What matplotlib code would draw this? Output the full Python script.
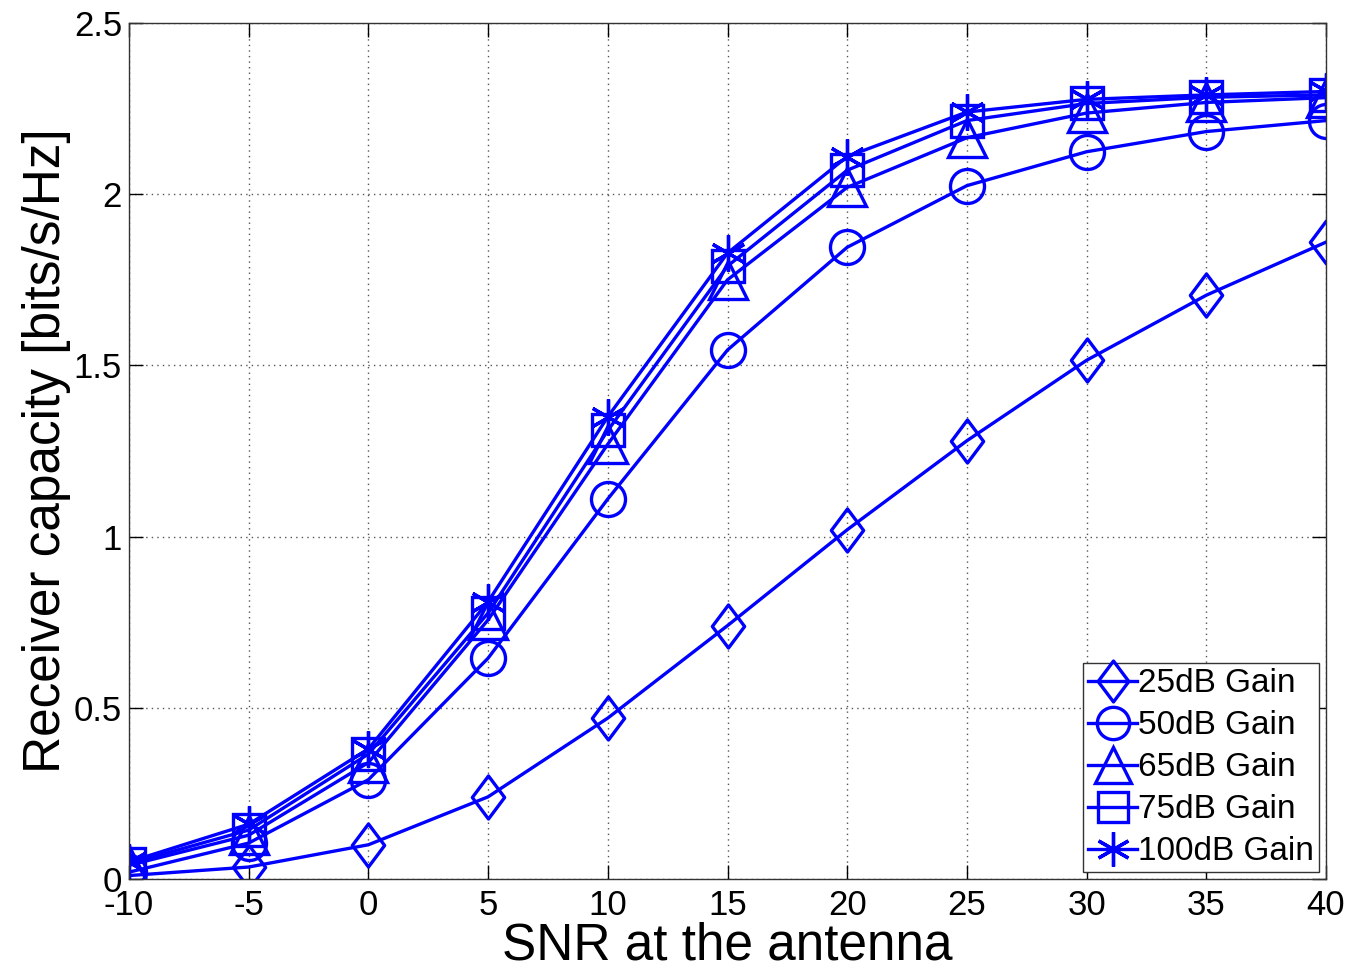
import matplotlib
matplotlib.use("Agg")
import matplotlib.pyplot as plt
from matplotlib.path import Path

snr = [-10, -5, 0, 5, 10, 15, 20, 25, 30, 35, 40]
gain_25 = [0.01, 0.035, 0.10, 0.24, 0.47, 0.74, 1.02, 1.28, 1.515, 1.705, 1.86]
gain_50 = [0.02, 0.105, 0.29, 0.645, 1.11, 1.545, 1.845, 2.025, 2.124, 2.183, 2.215]
gain_65 = [0.04, 0.128, 0.34, 0.757, 1.27, 1.75, 2.02, 2.165, 2.237, 2.268, 2.282]
gain_75 = [0.045, 0.143, 0.365, 0.777, 1.31, 1.79, 2.07, 2.215, 2.265, 2.283, 2.29]
gain_100 = [0.05, 0.16, 0.38, 0.81, 1.35, 1.828, 2.11, 2.24, 2.277, 2.29, 2.30]
labels = ["25dB Gain", "50dB Gain", "65dB Gain", "75dB Gain", "100dB Gain"]
series = [gain_25, gain_50, gain_65, gain_75, gain_100]

diamond = Path([(0, 1), (0.75, 0), (0, -1), (-0.75, 0), (0, 1)],
               [Path.MOVETO, Path.LINETO, Path.LINETO, Path.LINETO, Path.CLOSEPOLY])
markers = [diamond, "o", "^", "s", (6, 2, 0)]
msizes = [31, 24.5, 28, 23, 26]

plt.rcParams['font.family'] = ['Liberation Sans', 'DejaVu Sans']
fig = plt.figure(figsize=(13.5, 9.68), dpi=100)
ax = fig.add_axes([129/1350, 1 - 879/968, (1326-129)/1350, (879-23)/968])

blue = (0, 0, 1)
for y, lab, m, ms in zip(series, labels, markers, msizes):
    ax.plot(snr, y, color=blue, lw=2.4, marker=m, markersize=ms,
            markerfacecolor='none', markeredgecolor=blue, markeredgewidth=2.4,
            label=lab)

ax.set_xlim(-10, 40)
ax.set_ylim(0, 2.5)
ax.set_xticks(snr)
ax.set_xticklabels([str(v) for v in snr])
ax.set_yticks([0, 0.5, 1, 1.5, 2, 2.5])
ax.set_yticklabels(["0", "0.5", "1", "1.5", "2", "2.5"])
ax.grid(True, linestyle=(0, (1, 3)), color='#555555', linewidth=1)
ax.tick_params(direction='in', length=10, width=1, labelsize=25, top=True, right=True)
ax.tick_params(axis='x', pad=7)
ax.tick_params(axis='y', pad=5)
for s in ax.spines.values():
    s.set_linewidth(1)
    s.set_color('#333333')
ax.set_xlabel("SNR at the antenna", fontsize=37, labelpad=0)
ax.set_ylabel("Receiver capacity [bits/s/Hz]", fontsize=37, labelpad=2)

leg = ax.legend(loc='lower right', fontsize=24, frameon=True, fancybox=False,
                edgecolor='#333333', framealpha=1, borderpad=0.15, labelspacing=0.33,
                handlelength=1.45, handletextpad=0.05, borderaxespad=0.2, markerscale=0.95)
leg.get_frame().set_linewidth(1)

fig.savefig("out.png", dpi=100, facecolor='white')
